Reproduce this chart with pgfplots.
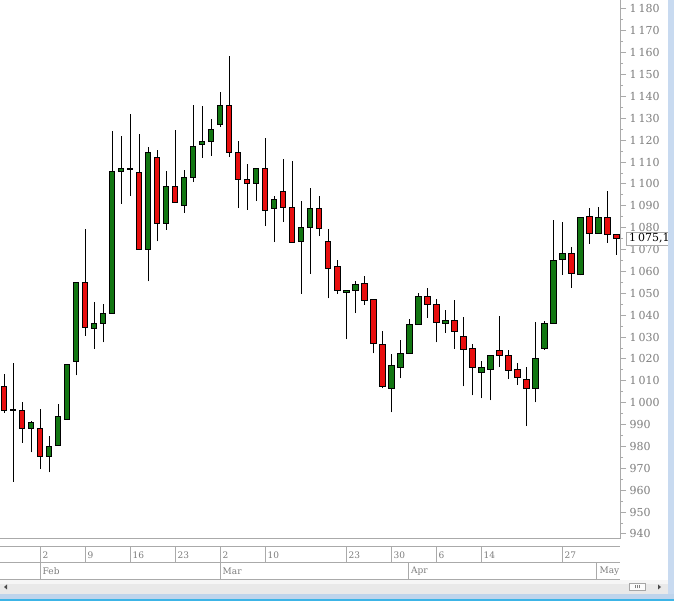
\documentclass[border=0pt]{standalone}
\usepackage{pgfplots}
\pgfplotsset{compat=1.18}
\usepackage{pgfplotstable}
\usepackage{fontspec}
\setmainfont{DejaVu Serif}

\definecolor{cred}{RGB}{232,14,14}
\definecolor{cgreen}{RGB}{18,118,18}
\definecolor{axgray}{RGB}{170,170,170}
\definecolor{labgray}{RGB}{125,125,125}
\definecolor{strip}{RGB}{200,218,240}
\definecolor{scroll}{RGB}{233,233,233}
\definecolor{bandblue}{RGB}{190,212,236}
\definecolor{cyanline}{RGB}{60,180,230}
\newcommand\ts{\hspace{2pt}}

% daily candles: index, open, high, low, close
\pgfplotstableread{
i o h l c
1 1007.3 1013.3 995.4 996.3
2 997.0 1018.3 963.8 996.6
3 996.3 1000.5 981.8 988.4
4 988.4 991.8 977.3 990.8
5 988.4 996.9 969.7 975.6
6 975.6 984.9 968.1 980.2
7 980.5 999.5 980.5 993.6
8 992.1 1017.3 992.1 1017.3
9 1018.9 1055.1 1012.5 1055.1
10 1055.1 1079.2 1030.6 1034.2
11 1034.0 1045.9 1024.6 1036.0
12 1036.0 1044.9 1027.6 1041.0
13 1041.0 1124.0 1041.0 1105.7
14 1105.6 1121.7 1090.9 1107.0
15 1107.0 1131.8 1094.4 1106.6
16 1105.3 1122.7 1069.9 1069.9
17 1069.9 1116.8 1055.5 1114.3
18 1112.0 1115.3 1073.7 1081.7
19 1081.7 1105.9 1079.0 1098.7
20 1098.7 1124.5 1091.4 1091.4
21 1090.0 1106.6 1086.8 1102.8
22 1102.8 1135.9 1100.8 1117.0
23 1118.1 1135.5 1112.0 1119.5
24 1119.5 1129.5 1112.9 1125.0
25 1127.1 1141.9 1126.0 1135.8
26 1135.8 1158.4 1112.3 1114.3
27 1114.3 1119.5 1088.9 1101.9
28 1101.9 1108.9 1088.1 1100.1
29 1100.1 1107.0 1092.1 1107.0
30 1107.0 1121.1 1080.7 1087.7
31 1088.6 1094.3 1073.4 1092.8
32 1096.4 1111.5 1082.5 1089.1
33 1089.1 1110.3 1073.1 1073.1
34 1073.8 1092.0 1049.7 1079.9
35 1080.2 1098.1 1058.9 1088.6
36 1088.6 1094.7 1076.1 1079.5
37 1073.5 1079.2 1047.7 1061.2
38 1062.1 1065.4 1049.7 1051.3
39 1050.2 1051.3 1029.0 1051.1
40 1051.1 1055.8 1040.9 1053.9
41 1054.3 1058.1 1044.7 1046.6
42 1047.0 1047.0 1022.6 1026.9
43 1026.4 1033.0 1006.5 1007.5
44 1006.7 1022.3 995.6 1016.8
45 1016.2 1028.8 1011.1 1022.3
46 1022.7 1038.3 1022.7 1035.6
47 1035.6 1050.2 1035.6 1048.4
48 1048.4 1052.5 1038.8 1044.9
49 1044.7 1047.5 1027.6 1036.5
50 1036.0 1042.4 1031.9 1037.4
51 1037.4 1047.0 1024.6 1032.4
52 1030.1 1039.2 1007.5 1024.1
53 1025.0 1026.9 1003.3 1015.9
54 1013.6 1019.1 1002.0 1015.9
55 1015.4 1021.4 1001.1 1021.4
56 1023.7 1039.7 1016.3 1021.8
57 1021.8 1024.1 1010.8 1014.5
58 1015.0 1018.2 1008.1 1011.3
59 1010.8 1016.3 989.3 1006.7
60 1006.7 1036.9 1000.1 1020.0
61 1025.0 1037.5 1024.1 1036.0
62 1036.0 1083.3 1036.0 1064.9
63 1065.4 1082.4 1058.6 1068.1
64 1068.1 1071.3 1052.5 1058.9
65 1058.6 1084.5 1058.2 1084.5
66 1084.9 1088.8 1072.6 1077.3
67 1077.3 1089.4 1077.3 1084.5
68 1084.5 1096.6 1073.2 1076.9
69 1076.8 1077.2 1067.7 1075.1
}\candles

\tikzset{
  sep/.style={draw=axgray, line width=1pt},
  dlab/.style={anchor=west, inner sep=2.5pt, text=labgray, font=\fontsize{9}{11}\selectfont},
}
\newcommand\dayl[2]{%
  \draw[sep] ([yshift=-8pt]axis cs:#1,937.7) -- ([yshift=-24pt]axis cs:#1,937.7);
  \node[dlab] at ([yshift=-16pt]axis cs:#1,937.7) {#2};}
\newcommand\monl[2]{%
  \draw[sep] ([yshift=-24pt]axis cs:#1,937.7) -- ([yshift=-41pt]axis cs:#1,937.7);
  \node[dlab] at ([yshift=-32.5pt]axis cs:#1,937.7) {#2};}

\begin{document}
\begin{tikzpicture}
\useasboundingbox (0,0) rectangle (674pt,601pt);
\clip (0,0) rectangle (674pt,601pt);
\fill[white] (0,0) rectangle (674pt,601pt);

\begin{axis}[
  at={(0pt,62pt)}, anchor=south west,
  scale only axis, width=620pt, height=539pt,
  xmin=0.555556, xmax=69.444444,
  ymin=937.7, ymax=1184.1,
  axis x line=bottom, axis y line=right,
  axis line style={draw=axgray, line width=1pt, -},
  xtick=\empty,
  ytick={940,950,...,1180},
  yticklabels={940,950,960,970,980,990,1\ts000,1\ts010,1\ts020,1\ts030,1\ts040,1\ts050,1\ts060,1\ts070,1\ts080,1\ts090,1\ts100,1\ts110,1\ts120,1\ts130,1\ts140,1\ts150,1\ts160,1\ts170,1\ts180},
  minor y tick num=1,
  tick align=outside,
  major tick length=6pt, minor tick length=3pt,
  tick style={draw=axgray, line width=1pt},
  yticklabel style={font=\fontsize{11}{13}\selectfont, text=labgray},
  clip=false,
]
\pgfplotsinvokeforeach{0,...,68}{
  \pgfplotstablegetelem{#1}{i}\of\candles\let\ci\pgfplotsretval
  \pgfplotstablegetelem{#1}{o}\of\candles\let\co\pgfplotsretval
  \pgfplotstablegetelem{#1}{h}\of\candles\let\ch\pgfplotsretval
  \pgfplotstablegetelem{#1}{l}\of\candles\let\cl\pgfplotsretval
  \pgfplotstablegetelem{#1}{c}\of\candles\let\cc\pgfplotsretval
  \pgfmathsetmacro\xa{\ci-0.333}
  \pgfmathsetmacro\xb{\ci+0.333}
  \ifdim\cc pt<\co pt \def\col{cred}\else\def\col{cgreen}\fi
  \edef\temp{%
    \noexpand\addplot[black, line width=1pt, forget plot] coordinates {(\ci,\cl) (\ci,\ch)};
    \noexpand\addplot[draw=black, fill=\col, line width=1pt, forget plot]
      coordinates {(\xa,\co) (\xb,\co) (\xb,\cc) (\xa,\cc)} -- cycle;
  }\temp
}

% date rows
\draw[sep] ([yshift=-8pt]rel axis cs:0,0) -- ([yshift=-8pt]rel axis cs:1,0);
\draw[sep] ([yshift=-24pt]rel axis cs:0,0) -- ([yshift=-24pt]rel axis cs:1,0);
\draw[sep] ([yshift=-41pt]rel axis cs:0,0) -- ([yshift=-41pt]rel axis cs:1,0);
\dayl{5}{2}
\dayl{10}{9}
\dayl{15}{16}
\dayl{20}{23}
\dayl{25}{2}
\dayl{30}{10}
\dayl{39}{23}
\dayl{44}{30}
\dayl{49}{6}
\dayl{54}{14}
\dayl{63}{27}
\monl{5}{Feb}
\monl{25}{Mar}
\monl{45.94}{Apr}
\monl{66.87}{May}

% last price box
\node[draw=axgray, fill=white, anchor=west, inner xsep=3pt, inner ysep=1.5pt,
  font=\fontsize{11}{13}\selectfont, text=black]
  at ([xshift=6pt]axis cs:69.444444,1075.1) {1\ts075,1};
\end{axis}

% window chrome: scrollbar and frame
\fill[scroll] (0,7pt) rectangle (674pt,21pt);
\fill[white!60!scroll] (0,17pt) rectangle (674pt,21pt);
\fill[bandblue] (0,2pt) rectangle (674pt,7pt);
\fill[cyanline] (0,0) rectangle (674pt,2pt);
\fill[strip] (668pt,7pt) rectangle (674pt,601pt);
\draw[fill=white!85!scroll, draw=gray!70] (629pt,10.5pt) rectangle (645pt,18pt);
\foreach \gx in {635,637,639} \draw[gray, line width=0.6pt] (\gx pt,12.5pt) -- (\gx pt,16pt);
\fill[black!70] (658pt,11.5pt) -- (661pt,14pt) -- (658pt,16.5pt) -- cycle;
\fill[black!70] (7pt,11.5pt) -- (4pt,14pt) -- (7pt,16.5pt) -- cycle;
\end{tikzpicture}
\end{document}
